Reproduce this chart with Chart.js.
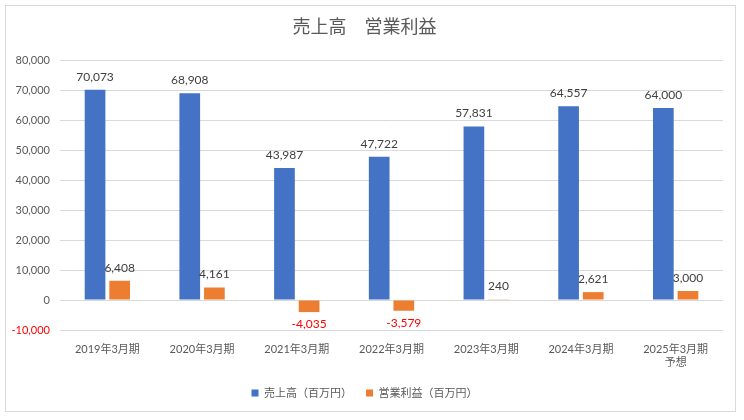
<!DOCTYPE html>
<html>
<head>
<meta charset="utf-8">
<script src="https://cdn.jsdelivr.net/npm/chart.js@4"></script>
<style>
  html, body { margin: 0; padding: 0; background: #fff; }
  #wrap { position: relative; width: 744px; height: 420px; }
  #frame { position: absolute; left: 5px; top: 5px; width: 731px; height: 407px; border: 1px solid #d9d9d9; box-sizing: border-box; pointer-events: none; }
  canvas { position: absolute; left: 0; top: 0; }
</style>
</head>
<body>
<div id="wrap">
  <canvas id="c" width="744" height="420"></canvas>
  <div id="frame"></div>
</div>
<script>
const titleText = '売上高　営業利益';
const categories = ['2019年3月期', '2020年3月期', '2021年3月期', '2022年3月期', '2023年3月期', '2024年3月期', ['2025年3月期', '予想']];
const salesLabel = '売上高（百万円）';
const profitLabel = '営業利益（百万円）';
const sales = [70073, 68908, 43987, 47722, 57831, 64557, 64000];
const profit = [6408, 4161, -4035, -3579, 240, 2621, 3000];
const yMin = -10000, yMax = 80000, yStep = 10000;

const FONT = "Lato, 'Noto Sans CJK JP', sans-serif";
const fmt = v => v.toLocaleString('en-US');

const dataLabels = {
  id: 'dataLabels',
  afterDatasetsDraw(chart) {
    const ctx = chart.ctx;
    ctx.save();
    ctx.font = '12px ' + FONT;
    ctx.textAlign = 'center';
    ctx.textBaseline = 'middle';
    chart.data.datasets.forEach((ds, i) => {
      const meta = chart.getDatasetMeta(i);
      meta.data.forEach((bar, j) => {
        const v = ds.data[j];
        if (v >= 0) {
          ctx.fillStyle = '#404040';
          ctx.fillText(fmt(v), bar.x, bar.y - 13);
        } else {
          ctx.fillStyle = '#FF0000';
          ctx.fillText(fmt(v), bar.x, bar.y + 12);
        }
      });
    });
    ctx.restore();
  }
};

new Chart(document.getElementById('c'), {
  type: 'bar',
  data: {
    labels: categories,
    datasets: [
      { label: salesLabel, data: sales, backgroundColor: '#4472C4', categoryPercentage: 0.52, barPercentage: 0.84 },
      { label: profitLabel, data: profit, backgroundColor: '#ED7D31', categoryPercentage: 0.52, barPercentage: 0.84 }
    ]
  },
  options: {
    responsive: false,
    animation: false,
    layout: { padding: { left: 6, right: 21, top: 7, bottom: 11.5 } },
    plugins: {
      title: {
        display: true, text: titleText, color: '#595959',
        font: { family: FONT, size: 18, weight: 'normal' },
        padding: { top: 9, bottom: 22.4 }
      },
      legend: {
        position: 'bottom',
        labels: {
          color: '#595959', boxWidth: 7, boxHeight: 7, padding: 14,
          font: { family: FONT, size: 11 }
        }
      },
      tooltip: { enabled: false }
    },
    scales: {
      x: {
        grid: { display: false },
        border: { display: false },
        afterFit(scale) { scale.height = 43.5; },
        ticks: {
          color: '#595959', font: { family: FONT, size: 11 },
          maxRotation: 0, autoSkip: false, padding: 4.5
        }
      },
      y: {
        min: yMin, max: yMax,
        grid: { color: '#d9d9d9', drawTicks: false },
        border: { display: false },
        afterFit(scale) { scale.width = 54; },
        ticks: {
          stepSize: yStep, padding: 10,
          color: ctx => ctx.tick.value < 0 ? '#FF0000' : '#595959',
          font: { family: FONT, size: 11 },
          callback: v => fmt(v)
        }
      }
    }
  },
  plugins: [dataLabels]
});
</script>
</body>
</html>
